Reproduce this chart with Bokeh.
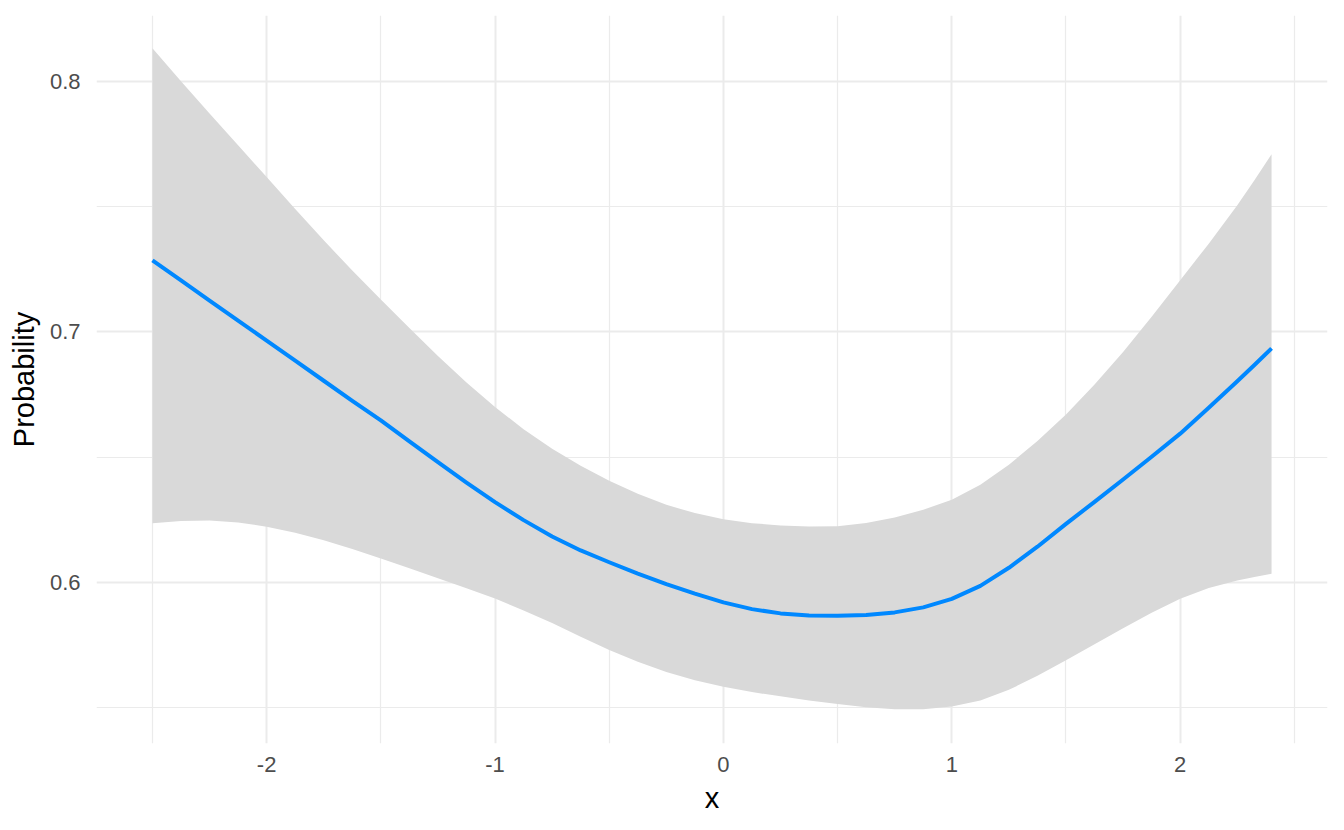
from bokeh.plotting import figure
from bokeh.models import Range1d, FixedTicker, ColumnDataSource
from bokeh.embed import file_html
from bokeh.resources import INLINE

# Data
x_vals = [-2.5, -2.375, -2.25, -2.125, -2.0, -1.875, -1.75, -1.625, -1.5, -1.375, -1.25,
          -1.125, -1.0, -0.875, -0.75, -0.625, -0.5, -0.375, -0.25, -0.125, 0.0,
          0.125, 0.25, 0.375, 0.5, 0.625, 0.75, 0.875, 1.0, 1.125, 1.25,
          1.375, 1.5, 1.625, 1.75, 1.875, 2.0, 2.125, 2.25, 2.325, 2.4]
prob = [0.7285, 0.7205, 0.7125, 0.7045, 0.6965, 0.6885, 0.6805, 0.6725, 0.6647, 0.6563, 0.6480,
        0.6399, 0.6321, 0.6249, 0.6184, 0.6128, 0.6081, 0.6036, 0.5994, 0.5956, 0.5921,
        0.5894, 0.5877, 0.5869, 0.5868, 0.5871, 0.5881, 0.5901, 0.5935, 0.5987, 0.6059,
        0.6143, 0.6234, 0.6322, 0.6411, 0.6502, 0.6594, 0.6697, 0.6803, 0.6868, 0.6934]
upper = [0.8131, 0.8000, 0.7871, 0.7744, 0.7618, 0.7490, 0.7365, 0.7245, 0.7129, 0.7015, 0.6904,
         0.6798, 0.6700, 0.6612, 0.6534, 0.6466, 0.6406, 0.6354, 0.6310, 0.6277, 0.6253,
         0.6237, 0.6228, 0.6224, 0.6225, 0.6238, 0.6260, 0.6290, 0.6330, 0.6390, 0.6470,
         0.6565, 0.6670, 0.6790, 0.6920, 0.7060, 0.7206, 0.7352, 0.7505, 0.7605, 0.7709]
lower = [0.6237, 0.6246, 0.6248, 0.6240, 0.6223, 0.6199, 0.6169, 0.6134, 0.6096, 0.6057, 0.6017,
         0.5977, 0.5936, 0.5889, 0.5839, 0.5784, 0.5731, 0.5684, 0.5643, 0.5610, 0.5584,
         0.5563, 0.5546, 0.5530, 0.5516, 0.5503, 0.5495, 0.5495, 0.5506, 0.5530, 0.5572,
         0.5628, 0.5690, 0.5754, 0.5818, 0.5880, 0.5935, 0.5978, 0.6008, 0.6022, 0.6035]

x_ticks = [-2, -1, 0, 1, 2]
x_tick_labels = ["-2", "-1", "0", "1", "2"]
x_minor = [-2.5, -1.5, -0.5, 0.5, 1.5, 2.5]
y_ticks = [0.6, 0.7, 0.8]
y_tick_labels = ["0.6", "0.7", "0.8"]
y_minor = [0.55, 0.65, 0.75]

src = ColumnDataSource(dict(x=x_vals, y=prob, lo=lower, hi=upper))

p = figure(width=1336, height=822, output_backend="svg", toolbar_location=None,
           x_range=Range1d(-2.745, 2.645), y_range=Range1d(0.5358, 0.8262),
           min_border_left=96, min_border_right=9, min_border_top=15, min_border_bottom=79,
           x_axis_label="x", y_axis_label="Probability")
p.outline_line_color = None
p.background_fill_color = "white"
p.border_fill_color = "white"

p.varea(x="x", y1="lo", y2="hi", source=src, fill_color="#D9D9D9")
p.line(x="x", y="y", source=src, line_color="#0088FF", line_width=4, line_join="round")

p.xaxis.ticker = FixedTicker(ticks=x_ticks, minor_ticks=x_minor)
p.yaxis.ticker = FixedTicker(ticks=y_ticks, minor_ticks=y_minor)
p.xaxis.major_label_overrides = {t: l for t, l in zip(x_ticks, x_tick_labels)}
p.yaxis.major_label_overrides = {t: l for t, l in zip(y_ticks, y_tick_labels)}

for ax in (p.xaxis, p.yaxis):
    ax.axis_line_color = None
    ax.major_tick_line_color = None
    ax.minor_tick_line_color = None
    ax.major_label_text_font = "Liberation Sans"
    ax.major_label_text_font_size = "22px"
    ax.major_label_text_color = "#4D4D4D"
    ax.axis_label_text_font = "Liberation Sans"
    ax.axis_label_text_font_size = "29px"
    ax.axis_label_text_font_style = "normal"
    ax.axis_label_text_color = "black"

p.xaxis.major_label_standoff = 7
p.xaxis.axis_label_standoff = 7
p.yaxis.major_label_standoff = 10
p.yaxis.axis_label_standoff = 7

for g in (p.xgrid, p.ygrid):
    g.grid_line_color = "#EBEBEB"
    g.grid_line_width = 2
    g.minor_grid_line_color = "#EBEBEB"
    g.minor_grid_line_width = 1.2

open("out.html", "w").write(file_html(p, INLINE))
